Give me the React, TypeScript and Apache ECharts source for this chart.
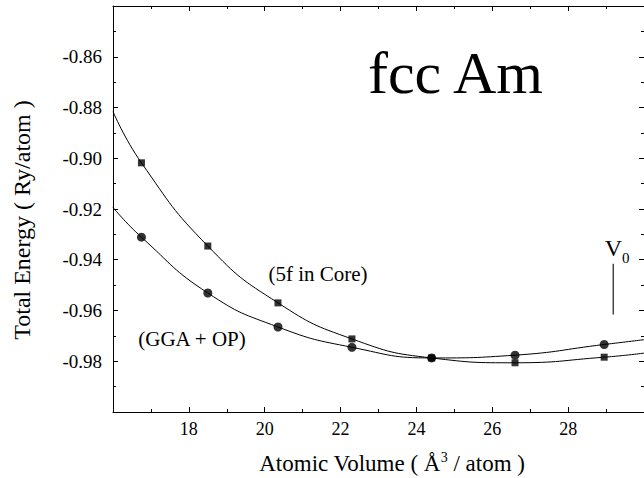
import React, { useEffect, useRef } from "react";
import * as echarts from "echarts";

// Atomic volumes (Å^3/atom) of the calculated points
const volumes = [16.75, 18.5, 20.35, 22.3, 24.4, 26.6, 28.95];
// Total energies (Ry/atom)
const energyCore = [-0.9018, -0.9346, -0.957, -0.9712, -0.9787, -0.9806, -0.9784];
const energyGGA = [-0.9311, -0.9531, -0.9665, -0.9745, -0.9787, -0.9776, -0.9734];
// fitted curves read at the plot edges
const fitEdgeVolumes = [16, 30];
const fitEdgeCore = [-0.8816, -0.9768];
const fitEdgeGGA = [-0.9194, -0.9715];
// V0 marker
const v0Volume = 29.19;
const v0Range = [-0.9416, -0.9616];

const FONT = "Liberation Serif";

function curve(edgeY: number[], ys: number[]) {
  const pts: number[][] = [[fitEdgeVolumes[0], edgeY[0]]];
  volumes.forEach((v, i) => pts.push([v, ys[i]]));
  pts.push([fitEdgeVolumes[1], edgeY[1]]);
  return pts;
}

export default function App() {
  const ref = useRef<HTMLDivElement>(null);
  useEffect(() => {
    if (!ref.current) return;
    const chart = echarts.init(ref.current, undefined, { renderer: "svg" });
    const axisCommon = {
      type: "value" as const,
      axisLine: { show: true, onZero: false, lineStyle: { color: "#000", width: 1 } },
      axisTick: { show: true, inside: true, length: 5, lineStyle: { color: "#000", width: 1 } },
      minorTick: { show: true, splitNumber: 2, length: 3, lineStyle: { color: "#000", width: 1 } },
      splitLine: { show: false },
      minorSplitLine: { show: false },
    };
    const xBase = { ...axisCommon, min: 16, max: 30, interval: 2 };
    const yBase = { ...axisCommon, min: -1.0, max: -0.84, interval: 0.02 };
    chart.setOption({
      animation: false,
      backgroundColor: "#fff",
      textStyle: { fontFamily: FONT },
      grid: { left: 113, top: 6, width: 535, height: 406 },
      xAxis: [
        {
          ...xBase,
          position: "bottom",
          axisLabel: {
            showMinLabel: false,
            showMaxLabel: false,
            fontSize: 18,
            fontFamily: FONT,
            color: "#000",
            margin: 8,
          },
        },
        { ...xBase, position: "top", axisLabel: { show: false } },
      ],
      yAxis: [
        {
          ...yBase,
          position: "left",
          axisLabel: {
            showMinLabel: false,
            showMaxLabel: false,
            fontSize: 19,
            fontFamily: FONT,
            color: "#000",
            margin: 11,
            formatter: (v: number) => v.toFixed(2),
          },
        },
        { ...yBase, position: "right", axisLabel: { show: false } },
      ],
      series: [
        {
          name: "5f in Core fit",
          type: "line",
          data: curve(fitEdgeCore, energyCore),
          smooth: 0.5,
          symbol: "none",
          lineStyle: { color: "#000", width: 1 },
        },
        {
          name: "GGA + OP fit",
          type: "line",
          data: curve(fitEdgeGGA, energyGGA),
          smooth: 0.5,
          symbol: "none",
          lineStyle: { color: "#000", width: 1 },
        },
        {
          name: "5f in Core",
          type: "scatter",
          data: volumes.map((v, i) => [v, energyCore[i]]),
          symbol: "rect",
          symbolSize: 7,
          itemStyle: { color: "#000" },
        },
        {
          name: "GGA + OP",
          type: "scatter",
          data: volumes.map((v, i) => [v, energyGGA[i]]),
          symbol: "circle",
          symbolSize: 9,
          itemStyle: { color: "#000" },
        },
        {
          name: "V0",
          type: "line",
          data: v0Range.map((e) => [v0Volume, e]),
          symbol: "none",
          lineStyle: { color: "#444", width: 1.5 },
        },
      ],
      graphic: [
        {
          type: "text",
          x: 368,
          y: 73,
          style: { text: "fcc Am", fontSize: 60, fontFamily: FONT, fill: "#000", align: "left", verticalAlign: "middle" },
        },
        {
          type: "text",
          x: 318,
          y: 274,
          style: { text: "(5f in Core)", fontSize: 21, fontFamily: FONT, fill: "#000", align: "center", verticalAlign: "middle" },
        },
        {
          type: "text",
          x: 192,
          y: 339,
          style: { text: "(GGA + OP)", fontSize: 21, fontFamily: FONT, fill: "#000", align: "center", verticalAlign: "middle" },
        },
        {
          type: "text",
          x: 622,
          y: 248,
          style: { text: "V", fontSize: 24, fontFamily: FONT, fill: "#000", align: "right", verticalAlign: "middle" },
        },
        {
          type: "text",
          x: 622,
          y: 258,
          style: { text: "0", fontSize: 15, fontFamily: FONT, fill: "#000", align: "left", verticalAlign: "middle" },
        },
        {
          type: "text",
          x: 22,
          y: 220,
          rotation: Math.PI / 2,
          style: {
            text: "Total Energy ( Ry/atom )",
            fontSize: 24,
            fontFamily: FONT,
            fill: "#000",
            align: "center",
            verticalAlign: "middle",
          },
        },
        {
          type: "text",
          x: 392,
          y: 463,
          style: {
            text: "{b|Atomic Volume ( Å}{s|3}{b| / atom )}",
            fill: "#000",
            align: "center",
            verticalAlign: "middle",
            rich: {
              b: { fontSize: 23, fontFamily: FONT, fill: "#000", lineHeight: 26, verticalAlign: "middle" },
              s: { fontSize: 14, fontFamily: FONT, fill: "#000", lineHeight: 14, verticalAlign: "top" },
            },
          },
        },
      ],
    });
    return () => chart.dispose();
  }, []);
  return (
    <div
      ref={ref}
      style={{ position: "fixed", left: 0, top: 0, width: 644, height: 478, background: "#fff" }}
    />
  );
}
